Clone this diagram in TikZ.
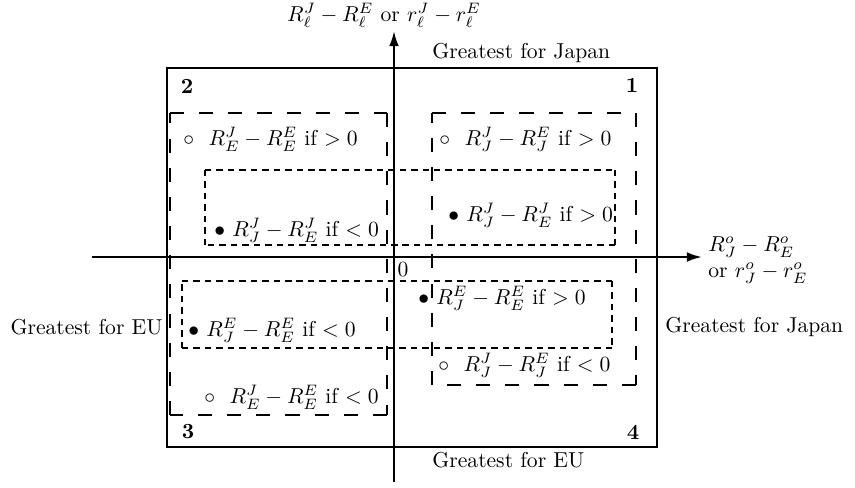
\documentclass[tikz,border=0pt]{standalone}
\usepackage{tikz}
\usetikzlibrary{positioning, arrows.meta}
\tikzset{quadrantmap/.style={
    x=0.463pt, y=-0.463pt,
    frame/.style={draw=black, line width=0.8pt},
    axis/.style={line width=1pt, -{Latex[length=7pt, width=4.5pt]}},
    longdash/.style={draw, line width=1.3pt, dash pattern=on 6.5pt off 7pt},
    shortdash/.style={draw, line width=0.9pt, dash pattern=on 3pt off 2.3pt},
    entry/.style={anchor=west, inner sep=0pt},
    quadnum/.style={font=\bfseries, inner sep=0pt},
    side/.style={inner sep=0pt},
}}
\begin{document}
\begin{tikzpicture}[quadrantmap]
    \useasboundingbox (0,0) rectangle (855,487);
    % outer frame and the dashed groupings
    \draw[frame] (167,68) rectangle (657,447);
    \draw[longdash] (170,113) -- (387,113) (387,113) -- (387,415) (387,415) -- (170,415) (170,415) -- (170,113);
    \draw[longdash] (432,113) -- (636,113) (636,113) -- (636,385) (636,385) -- (432,385) (432,385) -- (432,113);
    \draw[shortdash] (205,170) -- (615,170) (615,170) -- (615,245) (615,245) -- (205,245) (205,245) -- (205,170);
    \draw[shortdash] (182,281) -- (612,281) (612,281) -- (612,348) (612,348) -- (182,348) (182,348) -- (182,281);
    % axes
    \coordinate (xfrom) at (92,257);
    \coordinate (xto) at (702,257);
    \coordinate (yfrom) at (394,482);
    \coordinate (yto) at (394,31);
    \draw[axis] (xfrom) -- (xto);
    \draw[axis] (yfrom) -- (yto);
    \node[inner sep=0pt] (origin) at (403,270) {0};
    \node[side] (ylabel) at (384,15) {$R^J_\ell-R^E_\ell$ or $r^J_\ell-r^E_\ell$};
    \node[side, anchor=west, align=left] (xlabel) at (708,260) {$R^o_J-R^o_E$\\or $r^o_J-r^o_E$};
    % sides of the frame
    \node[side, anchor=west] (japtop) at (432,53) {Greatest for Japan};
    \node[side, anchor=west] (japright) at (665,327) {Greatest for Japan};
    \node[side, anchor=east] (euleft) at (163,327) {Greatest for EU};
    \node[side, anchor=west] (eubottom) at (432,460) {Greatest for EU};
    % quadrant numbers
    \node[quadnum] (q1) at (632,85) {1};
    \node[quadnum] (q2) at (187,86) {2};
    \node[quadnum] (q3) at (188,432) {3};
    \node[quadnum] (q4) at (633,432) {4};
    % entries
    \node[entry] (topleft) at (183,139) {$\circ$\ \ $R^J_E-R^E_E$ if $>0$};
    \node[entry] (topright) at (439,139) {$\circ$\ \ $R^J_J-R^E_J$ if $>0$};
    \node[entry] (midleft) at (214,230) {$\bullet$\ $R^J_J-R^J_E$ if $<0$};
    \node[entry] (midright) at (448,215) {$\bullet$\ $R^J_J-R^J_E$ if $>0$};
    \node[entry] (lowright) at (418,298) {$\bullet$\ $R^E_J-R^E_E$ if $>0$};
    \node[entry] (lowleft) at (188,330) {$\bullet$\ $R^E_J-R^E_E$ if $<0$};
    \node[entry] (botright) at (438,365) {$\circ$\ \ $R^J_J-R^E_J$ if $<0$};
    \node[entry] (botleft) at (204,397) {$\circ$\ \ $R^J_E-R^E_E$ if $<0$};
\end{tikzpicture}
\end{document}
